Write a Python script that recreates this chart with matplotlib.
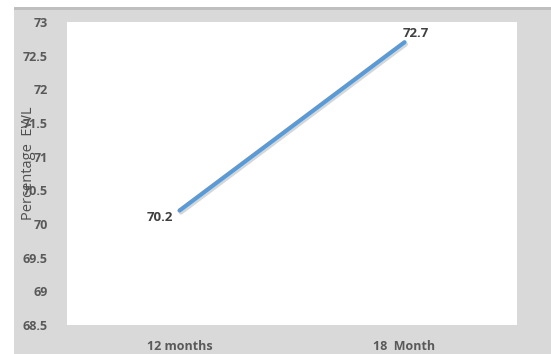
import matplotlib.pyplot as plt
import matplotlib.patheffects as pe
from matplotlib.patches import Rectangle

periods = ["12 months", "18  Month"]
ewl = [70.2, 72.7]
yticks = [68.5, 69, 69.5, 70, 70.5, 71, 71.5, 72, 72.5, 73]

plt.rcParams['font.family'] = ['Open Sans', 'DejaVu Sans']

W, H = 551, 354
fig = plt.figure(figsize=(W / 100, H / 100), dpi=100)
fig.patch.set_facecolor("white")

# grey chart frame
fig.patches.append(Rectangle((14 / W, 0), 1, (H - 7) / H, transform=fig.transFigure,
                             facecolor="#d9d9d9", edgecolor="none", zorder=-10))
fig.patches.append(Rectangle((14 / W, (H - 10) / H), 1, 3 / H, transform=fig.transFigure,
                             facecolor="#bfbfbf", edgecolor="none", zorder=-10))

ax = fig.add_axes([67 / W, (H - 325) / H, 450 / W, 303 / H])
ax.set_zorder(1)
ax.set_facecolor("white")

x = [0, 1]
ax.plot(x, ewl, color="#5b9bd5", linewidth=3, solid_capstyle="round",
        path_effects=[pe.SimpleLineShadow(offset=(1, -1.5), shadow_color="#999999", alpha=0.4),
                      pe.Normal()])

ax.text(x[0] - 0.03, ewl[0], "70.2", ha="right", va="top", fontsize=9.5,
        fontweight="bold", color="#404040")
ax.text(x[1] + 0.05, ewl[1] + 0.03, "72.7", ha="center", va="bottom", fontsize=9.5,
        fontweight="bold", color="#404040")

ax.set_xlim(-0.5, 1.5)
ax.set_ylim(68.5, 73)
ax.set_yticks(yticks)
ax.set_yticklabels([f"{v:g}" for v in yticks])
ax.set_xticks(x)
ax.set_xticklabels(periods)
ax.tick_params(length=0, labelsize=9, labelcolor="#595959")
ax.tick_params(axis="y", pad=14)
ax.tick_params(axis="x", pad=11)
for lbl in ax.get_xticklabels() + ax.get_yticklabels():
    lbl.set_fontweight("bold")
for s in ax.spines.values():
    s.set_visible(False)

t = fig.text(28 / W, 1 - 163 / H, "Percentage  EWL", rotation=90, ha="center", va="center",
             fontsize=10.5, color="#505050")
t.set_zorder(5)

fig.savefig("out.png", dpi=100)
